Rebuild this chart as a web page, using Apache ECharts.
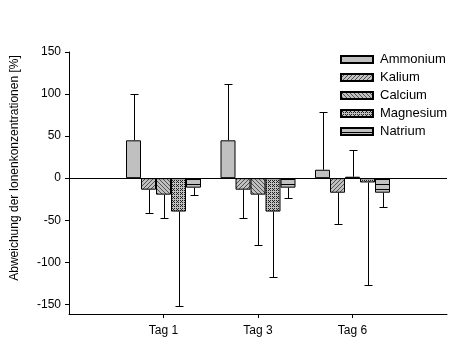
<!DOCTYPE html>
<html><head><meta charset="utf-8">
<script src="https://cdn.jsdelivr.net/npm/echarts@6/dist/echarts.min.js"></script>
<style>html,body{margin:0;padding:0;background:#fff}#c{width:473px;height:355px}</style>
</head><body><div id="c"></div>
<script>
const categories = ['Tag 1', 'Tag 3', 'Tag 6'];
const seriesNames = ['Ammonium', 'Kalium', 'Calcium', 'Magnesium', 'Natrium'];
const ammonium = [45, 45, 10];
const ammoniumSD = [55.5, 66.5, 68.5];
const kalium = [-13.7, -13.7, -17.3];
const kaliumSD = [27.2, 34.2, 37.7];
const calcium = [-19.6, -19.6, 1.7];
const calciumSD = [27.2, 60.2, 31.8];
const magnesium = [-39.7, -39.7, -5.1];
const magnesiumSD = [112.1, 77.9, 121.9];
const natrium = [-11.3, -11.3, -17.3];
const natriumSD = [9.1, 11.8, 16.5];
const yTicks = [-150, -100, -50, 0, 50, 100, 150];

const FONT = "'Liberation Sans', Arial, sans-serif";
const GRAY = '#c0c0c0';

function tile(w, h, dark, pts) {
  const c = document.createElement('canvas');
  c.width = w; c.height = h;
  const g = c.getContext('2d');
  g.fillStyle = GRAY; g.fillRect(0, 0, w, h);
  g.fillStyle = dark;
  pts.forEach(p => g.fillRect(p[0], p[1], 1, 1));
  return { image: c, repeat: 'repeat' };
}
const fills = [
  GRAY,
  tile(4, 4, '#505050', [[3,0],[2,1],[1,2],[0,3]]),
  tile(4, 4, '#505050', [[0,0],[1,1],[2,2],[3,3]]),
  tile(4, 4, '#202020', [[0,0],[2,0],[1,1],[0,2],[2,2]]),
  tile(1, 5, '#000000', [[0,4]])
];

const means = [ammonium, kalium, calcium, magnesium, natrium];
const sds = [ammoniumSD, kaliumSD, calciumSD, magnesiumSD, natriumSD];
const axisCats = [''].concat(categories, ['']);
const BW = 15;

const series = [];
means.forEach((m, i) => {
  series.push({
    name: seriesNames[i], type: 'bar', barWidth: BW, barGap: '0%',
    data: [null].concat(m, [null]),
    itemStyle: { color: fills[i], borderColor: '#000', borderWidth: 1 },
    z: 2,
    markLine: i === 0 ? { silent: true, symbol: 'none', label: { show: false },
      lineStyle: { color: '#000', width: 1, type: 'solid' }, data: [{ yAxis: 0 }], z: 5 } : undefined
  });
});
means.forEach((m, i) => {
  const off = (i - 2) * BW;
  series.push({
    type: 'custom', silent: true, z: 3,
    data: m.map((v, k) => [k + 1, v, v >= 0 ? v + sds[i][k] : v - sds[i][k]]),
    renderItem: function (params, api) {
      const a = api.coord([api.value(0), api.value(1)]);
      const b = api.coord([api.value(0), api.value(2)]);
      const x = Math.round(a[0] + off) + 0.5;
      const y2 = Math.round(b[1]) + 0.5;
      return { type: 'group', children: [
        { type: 'line', shape: { x1: x, y1: a[1], x2: x, y2: y2 }, style: { stroke: '#000', lineWidth: 1 } },
        { type: 'line', shape: { x1: x - 4, y1: y2, x2: x + 4, y2: y2 }, style: { stroke: '#000', lineWidth: 1 } }
      ]};
    }
  });
});

const chart = echarts.init(document.getElementById('c'), null, { renderer: 'canvas' });
chart.setOption({
  animation: false,
  backgroundColor: '#fff',
  textStyle: { fontFamily: FONT },
  grid: { left: 69, right: 26, top: 52, bottom: 41, containLabel: false },
  legend: {
    orient: 'vertical', left: 340, top: 53, padding: 0, itemWidth: 32, itemHeight: 7, itemGap: 5,
    icon: 'rect', selectedMode: false,
    textStyle: { fontFamily: FONT, fontSize: 13, color: '#000', padding: [0, 0, 0, 2] },
    data: seriesNames
  },
  xAxis: {
    type: 'category', data: axisCats, boundaryGap: false,
    axisLine: { onZero: false, lineStyle: { color: '#000', width: 1 } },
    axisTick: { inside: false, length: 4, lineStyle: { color: '#000' }, interval: (i) => i > 0 && i < axisCats.length - 1 },
    axisLabel: { color: '#000', fontSize: 12, fontFamily: FONT, margin: 11, interval: 0 },
    splitLine: { show: false }
  },
  yAxis: {
    type: 'value', min: -161.5, max: 150,
    axisLine: { show: true, lineStyle: { color: '#000', width: 1 } },
    axisTick: { show: true, length: 4, lineStyle: { color: '#000' }, customValues: yTicks },
    axisLabel: { color: '#000', fontSize: 12, fontFamily: FONT, margin: 8, customValues: yTicks },
    splitLine: { show: false }
  },
  graphic: [{
    type: 'text', x: 15, y: 168, rotation: Math.PI / 2,
    style: { text: 'Abweichung der Ionenkonzentrationen [%]', fontFamily: FONT, fontSize: 12, fill: '#000',
      align: 'center', verticalAlign: 'middle' }
  }],
  series: series
});
</script></body></html>
